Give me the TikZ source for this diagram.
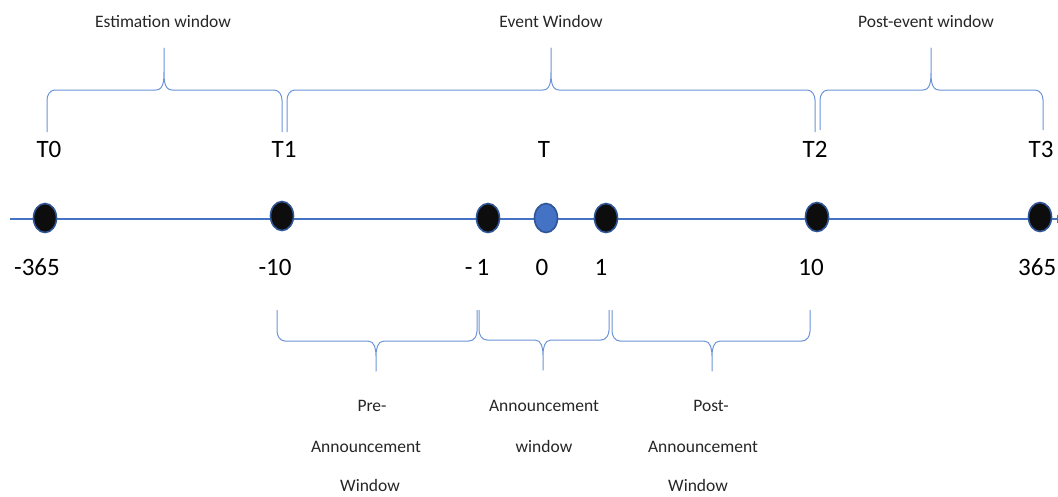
\documentclass[tikz,border=0pt]{standalone}
\usepackage{fontspec}
\setmainfont{Carlito}
\usetikzlibrary{shapes.geometric,arrows.meta}
\definecolor{axisblue}{HTML}{4472C4}
\definecolor{braceblue}{HTML}{6B94D8}
\definecolor{dotedge}{HTML}{2F5597}
\definecolor{txt}{HTML}{262626}
\tikzset{
  axisline/.style={draw=axisblue,line width=1.4pt},
  dot/.style={ellipse,draw=dotedge,line width=1.6pt,fill=black!95,minimum width=23pt,minimum height=29pt,inner sep=0pt},
  bluedot/.style={dot,fill=axisblue},
  brace/.style={draw=braceblue,line width=1pt,line join=round},
  bigtxt/.style={font=\fontsize{25}{28}\selectfont,text=black,inner sep=0pt,anchor=base},
  smalltxt/.style={font=\fontsize{17.5}{20}\selectfont,text=txt,inner sep=0pt,anchor=base},
}
% top brace: x1, x2, xm, yend, yline, ytip  (y measured downward)
\newcommand\upbrace[6]{%
  \draw[brace] (#1,#4) -- (#1,#5+10) to[out=90,in=180] (#1+8,#5) -- (#3-8,#5)
    to[out=0,in=-90] (#3,#5-18) -- (#3,#6) -- (#3,#5-18)
    to[out=-90,in=180] (#3+8,#5) -- (#2-8,#5) to[out=0,in=90] (#2,#5+10) -- (#2,#4);}
% bottom brace: x1, x2, xm, yend, yline, ytip
\newcommand\downbrace[6]{%
  \draw[brace] (#1,#4) -- (#1,#5-10) to[out=-90,in=180] (#1+8,#5) -- (#3-8,#5)
    to[out=0,in=90] (#3,#5+15) -- (#3,#6) -- (#3,#5+15)
    to[out=90,in=180] (#3+8,#5) -- (#2-8,#5) to[out=0,in=-90] (#2,#5-10) -- (#2,#4);}
\begin{document}
\begin{tikzpicture}[x=1pt,y=-1pt]
\useasboundingbox (0,0) rectangle (1058,496);
% axis
\coordinate (axs) at (10,219);
\coordinate (axe) at (1064,219);
\draw[axisline,-{Triangle[length=7pt,width=8pt]}] (axs) -- (axe);
% dots
\node[dot] (d0) at (45,218) {};
\node[dot] (d1) at (282,216) {};
\node[dot] (dm1) at (488,218) {};
\node[bluedot] (dz) at (546,218) {};
\node[dot] (dp1) at (606,218) {};
\node[dot] (d2) at (817,217) {};
\node[dot] (d3) at (1040,217) {};
% T labels
\node[bigtxt] (t0) at (49,157) {T0};
\node[bigtxt] (t1) at (284,157) {T1};
\node[bigtxt] (t) at (544,157) {T};
\node[bigtxt] (t2) at (815,157) {T2};
\node[bigtxt] (t3) at (1041,157) {T3};
% numbers
\node[bigtxt] (n0) at (37,275) {-365};
\node[bigtxt] (n1) at (275,275) {-10};
\node[bigtxt] (n2) at (477,275) {-\,1};
\node[bigtxt] (n3) at (542,275) {0};
\node[bigtxt] (n4) at (601,275) {1};
\node[bigtxt] (n5) at (811,275) {10};
\node[bigtxt,anchor=base west] (n6) at (1018,275) {365};
% top braces
\upbrace{47}{282}{164}{132}{90}{48}
\upbrace{287}{815}{551}{132}{90}{48}
\upbrace{820}{1043}{931}{130}{90}{48}
% bottom braces
\downbrace{277}{477}{376}{310}{341}{371}
\downbrace{479}{609}{543}{310}{340}{370}
\downbrace{612}{810}{712}{310}{341}{371}
% labels
\node[smalltxt] (lest) at (163,27) {Estimation window};
\node[smalltxt] (lev) at (551,27) {Event Window};
\node[smalltxt] (lpost) at (926,27) {Post-event window};
\node[smalltxt] (pa1) at (372,411) {Pre-};
\node[smalltxt] (pa2) at (366,452) {Announcement};
\node[smalltxt] (pa3) at (370,491) {Window};
\node[smalltxt] (a1) at (544,411) {Announcement};
\node[smalltxt] (a2) at (544,452) {window};
\node[smalltxt] (p1) at (711,411) {Post-};
\node[smalltxt] (p2) at (703,452) {Announcement};
\node[smalltxt] (p3) at (698,491) {Window};
\end{tikzpicture}
\end{document}
